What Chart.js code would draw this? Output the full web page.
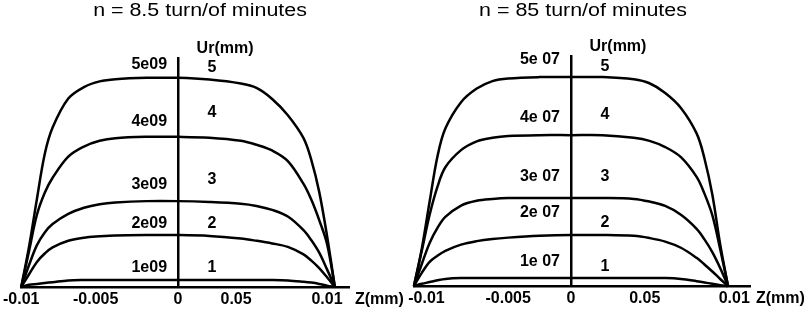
<!DOCTYPE html>
<html>
<head>
<meta charset="utf-8">
<script src="https://cdn.jsdelivr.net/npm/chart.js@4.4.0/dist/chart.umd.min.js"></script>
<style>
  html, body { margin: 0; padding: 0; background: #fff; }
  #wrap { position: relative; width: 811px; height: 316px; }
  canvas { position: absolute; top: 0; }
</style>
</head>
<body>
<div id="wrap">
  <canvas id="chart-a" width="405" height="316" style="left:0"></canvas>
  <canvas id="chart-b" width="406" height="316" style="left:405px"></canvas>
</div>
<script>
// Z (mm) sample points, shared by both panels
const zValues = [-0.01, -0.0095, -0.009, -0.0085, -0.008, -0.007, -0.006, -0.005, -0.004, -0.002, 0,
                 0.002, 0.004, 0.005, 0.006, 0.007, 0.008, 0.0085, 0.009, 0.0095, 0.01];

// panel A: n = 8.5 (values in 1e09 units)
const uA1 = [0, 0.05, 0.07, 0.09, 0.11, 0.15, 0.16, 0.16, 0.16, 0.16, 0.16, 0.16, 0.16, 0.16, 0.16, 0.15, 0.12, 0.10, 0.07, 0.03, 0];
const uA2 = [0, 0.29, 0.57, 0.76, 0.90, 1.05, 1.12, 1.15, 1.17, 1.18, 1.18, 1.16, 1.10, 1.05, 0.99, 0.91, 0.74, 0.60, 0.43, 0.22, 0];
const uA3 = [0, 0.50, 0.95, 1.24, 1.43, 1.66, 1.80, 1.88, 1.92, 1.95, 1.95, 1.93, 1.89, 1.84, 1.75, 1.60, 1.29, 1.06, 0.78, 0.40, 0];
const uA4 = [0, 0.82, 1.64, 2.14, 2.48, 2.96, 3.19, 3.32, 3.38, 3.41, 3.41, 3.39, 3.32, 3.23, 3.10, 2.86, 2.34, 1.98, 1.52, 0.98, 0];
const uA5 = [0, 0.92, 2.00, 3.02, 3.62, 4.28, 4.54, 4.67, 4.72, 4.75, 4.75, 4.71, 4.62, 4.52, 4.27, 3.90, 3.38, 2.88, 2.16, 1.16, 0];

// panel B: n = 85 (values in 1e07 units)
const uB1 = [0, 0.05, 0.09, 0.13, 0.16, 0.18, 0.18, 0.18, 0.18, 0.18, 0.18, 0.18, 0.18, 0.18, 0.18, 0.16, 0.11, 0.08, 0.05, 0.02, 0];
const uB2 = [0, 0.30, 0.55, 0.69, 0.80, 0.94, 1.02, 1.07, 1.10, 1.14, 1.16, 1.16, 1.14, 1.09, 1.01, 0.87, 0.64, 0.49, 0.33, 0.16, 0];
const uB3 = [0, 0.50, 0.98, 1.32, 1.57, 1.83, 1.94, 1.98, 2.00, 2.00, 2.00, 2.00, 1.98, 1.92, 1.82, 1.62, 1.30, 1.06, 0.77, 0.41, 0];
const uB4 = [0, 0.80, 1.62, 2.26, 2.70, 3.09, 3.29, 3.37, 3.41, 3.43, 3.43, 3.43, 3.37, 3.30, 3.16, 2.93, 2.48, 2.10, 1.61, 0.84, 0];
const uB5 = [0, 0.85, 1.92, 2.95, 3.58, 4.18, 4.49, 4.66, 4.72, 4.75, 4.75, 4.75, 4.70, 4.61, 4.39, 4.05, 3.47, 2.90, 2.08, 0.95, 0];

const curveNames = ['1', '2', '3', '4', '5'];

// tick labels and where the figure puts them
const xTickLabels = ['-0.01', '-0.005', '0', '0.05', '0.01'];
const xTickValuesA = [-0.01, -0.00525, 0, 0.0037, 0.0095];
const xTickValuesB = [-0.0092, -0.004, 0, 0.0047, 0.0104];
const yTickLabelsA = ['1e09', '2e09', '3e09', '4e09', '5e09'];
const yTickValuesA = [0.45, 1.45, 2.32, 3.75, 5.05];
const yTickLabelsB = ['1e 07', '2e 07', '3e 07', '4e 07', '5e 07'];
const yTickValuesB = [0.55, 1.66, 2.48, 3.82, 5.14];
const curveLabelValuesA = [0.45, 1.45, 2.45, 3.95, 4.98];
const curveLabelValuesB = [0.45, 1.45, 2.48, 3.89, 5.0];

const FONT = '"Liberation Sans", Arial, sans-serif';

// titles, y labels, curve numbers and axis names
const panelText = {
    id: 'panelText',
    afterDraw(chart, args, opts) {
        const ctx = chart.ctx;
        const area = chart.chartArea;
        const x = chart.scales.x;
        const y = chart.scales.y;
        const axisX = x.getPixelForValue(0);
        const axisY = y.getPixelForValue(0);
        ctx.save();
        ctx.fillStyle = '#000';
        ctx.textBaseline = 'middle';

        ctx.save();
        ctx.font = '18px ' + FONT;
        ctx.textAlign = 'center';
        ctx.translate(opts.titleX, 11);
        ctx.scale(1.19, 1);
        ctx.fillText(opts.title, 0, 0);
        ctx.restore();

        ctx.font = 'bold 16px ' + FONT;
        ctx.textAlign = 'right';
        y.ticks.forEach(function(t, i) {
            ctx.fillText(opts.yLabels[i], axisX - 11, y.getPixelForValue(t.value));
        });

        ctx.textAlign = 'center';
        opts.curveLabelValues.forEach(function(v, i) {
            ctx.fillText(curveNames[i], axisX + 34, y.getPixelForValue(v));
        });
        ctx.fillText('Ur(mm)', axisX + 47, area.top - 9);

        ctx.textAlign = 'left';
        ctx.fillText('Z(mm)', area.right + 6, axisY + 13);
        ctx.restore();
    }
};

function makeDatasets(curves) {
    return curves.map(function(vals) {
        return {
            data: zValues.map(function(z, i) { return { x: z, y: vals[i] }; }),
            borderColor: '#000',
            borderWidth: 2.5,
            pointRadius: 0,
            tension: 0.35,
            fill: false,
            clip: false
        };
    });
}

function makeChart(id, cfg) {
    return new Chart(document.getElementById(id), {
        type: 'line',
        data: { datasets: makeDatasets(cfg.curves) },
        plugins: [panelText],
        options: {
            responsive: false,
            animation: false,
            devicePixelRatio: 1,
            layout: { autoPadding: false, padding: cfg.padding },
            plugins: {
                legend: { display: false },
                tooltip: { enabled: false },
                panelText: {
                    title: cfg.title,
                    titleX: cfg.titleX,
                    yLabels: cfg.yLabels,
                    curveLabelValues: cfg.curveLabelValues
                }
            },
            scales: {
                x: {
                    type: 'linear',
                    min: -0.01,
                    max: cfg.xMax,
                    position: { y: 0 },
                    grid: { display: false, drawTicks: false },
                    border: { color: '#000', width: 2.5 },
                    afterBuildTicks: function(scale) {
                        scale.ticks = cfg.xTicks.map(function(v) { return { value: v }; });
                    },
                    ticks: {
                        autoSkip: false,
                        maxRotation: 0,
                        padding: 3,
                        color: '#000',
                        font: { family: FONT, size: 16, weight: 'bold' },
                        callback: function(value, index) { return xTickLabels[index]; }
                    }
                },
                y: {
                    type: 'linear',
                    min: 0,
                    max: cfg.yMax,
                    position: { x: 0 },
                    grid: { display: false, drawTicks: false },
                    border: { color: '#000', width: 2.5 },
                    afterBuildTicks: function(scale) {
                        scale.ticks = cfg.yTicks.map(function(v) { return { value: v }; });
                    },
                    ticks: { display: false }
                }
            }
        }
    });
}

makeChart('chart-a', {
    curves: [uA1, uA2, uA3, uA4, uA5],
    title: 'n = 8.5 turn/of minutes',
    titleX: 200,
    padding: { left: 20, right: 56, top: 58, bottom: 29 },
    xMax: 0.0109,
    yMax: 5.2,
    xTicks: xTickValuesA,
    yTicks: yTickValuesA,
    yLabels: yTickLabelsA,
    curveLabelValues: curveLabelValuesA
});

makeChart('chart-b', {
    curves: [uB1, uB2, uB3, uB4, uB5],
    title: 'n = 85 turn/of minutes',
    titleX: 178,
    padding: { left: 7, right: 61, top: 56, bottom: 30 },
    xMax: 0.0114,
    yMax: 5.23,
    xTicks: xTickValuesB,
    yTicks: yTickValuesB,
    yLabels: yTickLabelsB,
    curveLabelValues: curveLabelValuesB
});
</script>
</body>
</html>
